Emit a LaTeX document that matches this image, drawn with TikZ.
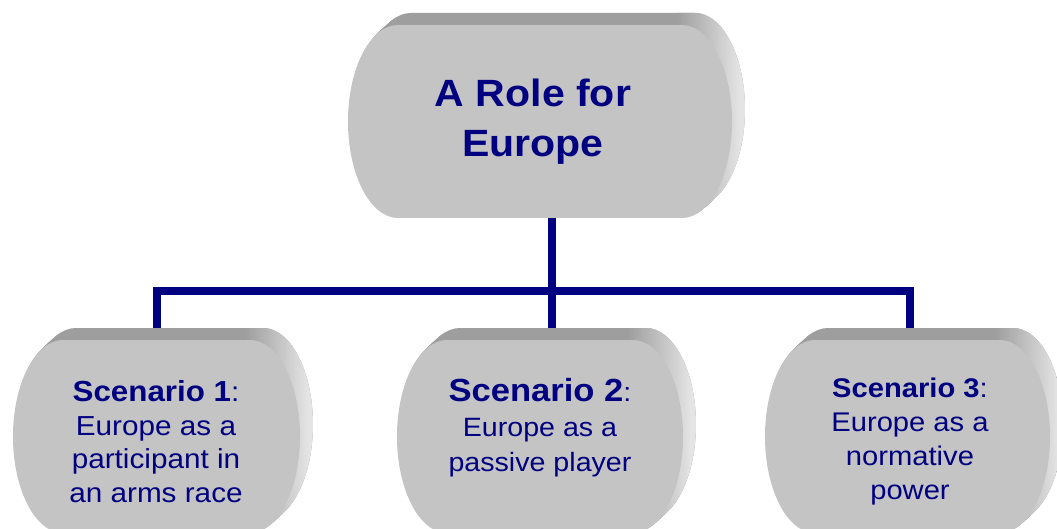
\documentclass[tikz,border=0pt]{standalone}
\usepackage{fontspec}
\setmainfont{Liberation Sans}[FakeStretch=1.08]
\usetikzlibrary{calc}
\definecolor{navyblue}{RGB}{0,0,128}
\definecolor{boxface}{RGB}{196,196,196}
\definecolor{boxtop}{RGB}{158,158,158}
\definecolor{boxside}{RGB}{228,228,228}
\newcommand{\capsule}[4]{($(#1)+({-#2+50+1.08*#4},{-#3-#4})$) -- ++({2*#2-100},0)
  arc[start angle=-90,end angle=90,x radius=50,y radius=#3] -- ++({100-2*#2},0)
  arc[start angle=90,end angle=270,x radius=50,y radius=#3] -- cycle}
\newcommand{\solidbox}[3]{%
  \foreach \k in {1,...,12} {\fill[boxtop] \capsule{#1}{#2}{#3}{\k};}
  \foreach \k in {1,...,12} {
    \begin{scope}
      \clip \capsule{#1}{#2}{#3}{\k};
      \shade[left color=boxtop,right color=boxside] ($(#1)+(#2-55,-#3-20)$) rectangle ($(#1)+(#2+8,#3)$);
      \fill[boxside] ($(#1)+(#2+8,-#3-20)$) rectangle ($(#1)+(#2+30,#3)$);
    \end{scope}}
  \fill[boxface] \capsule{#1}{#2}{#3}{0};}
\begin{document}
\begin{tikzpicture}[x=1pt,y=-1pt,
    boxnode/.style={inner sep=0pt,minimum width=287pt,minimum height=193pt},
    link/.style={draw=navyblue,line width=8pt,line join=miter},
    labeltext/.style={text=navyblue,align=center,inner sep=0pt}]
  \useasboundingbox (0,0) rectangle (1057,529);
  \clip (0,0) rectangle (1057,529);
  \fill[white] (0,0) rectangle (1057,529);
  \node[boxnode,minimum width=384pt] (role) at (540,121.5) {};
  \node[boxnode] (sc1) at (156.5,436.5) {};
  \node[boxnode] (sc2) at (540,436.5) {};
  \node[boxnode] (sc3) at (907.5,436.5) {};
  \draw[link] ([xshift=12pt]role.south) -- ([xshift=12pt,yshift=10pt]sc2.north);
  \draw[link] ([yshift=10pt]sc1.north) -- ++(0,-39) -| ([xshift=2.5pt,yshift=10pt]sc3.north);
  \solidbox{role}{192}{96.5}
  \solidbox{sc1}{143.5}{96.5}
  \solidbox{sc2}{143}{96.5}
  \solidbox{sc3}{142.5}{96.5}
  \node[labeltext,font=\fontsize{38pt}{50pt}\selectfont\bfseries] (role text) at (533,122) {A Role for\\Europe};
  \node[labeltext,font=\fontsize{27.5pt}{33.5pt}\selectfont] (sc1 text) at (156,441.7)
    {{\bfseries\fontsize{29pt}{33.5pt}\selectfont Scenario 1}:\\Europe as a\\participant in\\an arms race};
  \node[labeltext,font=\fontsize{26.5pt}{35pt}\selectfont] (sc2 text) at (540,428)
    {{\bfseries\fontsize{32pt}{35pt}\selectfont Scenario 2}:\\Europe as a\\passive player};
  \node[labeltext,font=\fontsize{27pt}{34pt}\selectfont] (sc3 text) at (910,442)
    {{\bfseries\fontsize{27pt}{34pt}\selectfont Scenario 3}:\\Europe as a\\normative\\power};
\end{tikzpicture}
\end{document}
